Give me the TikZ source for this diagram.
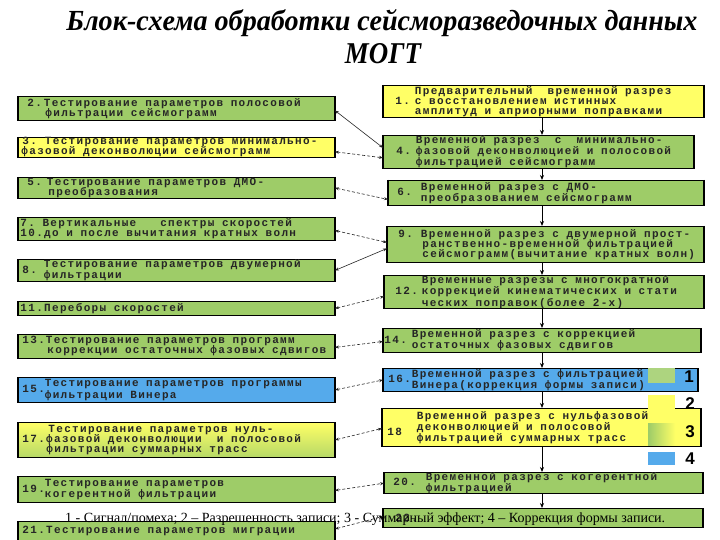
\documentclass[tikz,border=0pt]{standalone}
\usepackage{fontspec}
\usepackage{graphicx}
\setmainfont{Liberation Serif}
\newfontfamily\boxfont[LetterSpace=12]{Liberation Mono}
\newfontfamily\legfont{Liberation Sans}
\usetikzlibrary{arrows.meta}
\definecolor{grn}{RGB}{158,204,104}
\definecolor{ylw}{RGB}{255,255,102}
\definecolor{blu}{RGB}{85,170,235}
\hfuzz=100pt
\newcommand\bfnt{\boxfont\bfseries\fontsize{11pt}{10pt}\selectfont\lineskiplimit=-100pt\spaceskip=7.6pt\relax}
\newcommand\HS[1]{\hspace*{#1pt}}
\newcommand\NB[4]{\HS{#1}#2\HS{#3}\parbox[c]{280pt}{\raggedright\spaceskip=7.6pt\relax #4}}
\newcommand\bx[7]{\node[box,#2,minimum width=#5pt,text width=#5pt,minimum height=#6pt] (#1) at (#3,#4) {\spaceskip=7.6pt\relax #7};}
\tikzset{
  box/.style={draw=black, line width=0.9pt, inner xsep=0pt, inner ysep=0pt, anchor=north west, align=left, font=\bfnt, text=black!85},
  link/.style={{Stealth[length=4pt,width=3pt]}-{Stealth[length=4pt,width=3pt]}, line width=0.6pt, draw=black!85},
  dlink/.style={link, dash pattern=on 3pt off 2pt},
  flow/.style={-{Stealth[length=5pt,width=4pt]}, line width=0.8pt},
  legsq/.style={draw=none, anchor=north west, inner sep=0pt, minimum width=27pt},
  legnum/.style={font=\legfont\bfseries\fontsize{17pt}{17pt}\selectfont, inner sep=0pt},
}
\begin{document}
\begin{tikzpicture}[x=1pt,y=-1pt]
\useasboundingbox[fill=white] (0,0) rectangle (720,540);
% title
\node[anchor=base, inner sep=0] (t1) at (382,31) {\resizebox{631pt}{21pt}{\bfseries\itshape Блок-схема обработки сейсморазведочных данных}};
\node[anchor=base, inner sep=0] (t2) at (383,64) {\resizebox{76pt}{20pt}{\bfseries\itshape МОГТ}};
% left column
\bx{b2}{fill=grn}{18}{96}{316}{24}{\HS{9}2.\HS{2}Тестирование параметров полосовой\\\HS{27}фильтрации сейсмограмм}
\bx{b3}{fill=ylw}{18}{137}{316}{19}{\mbox{\HS{4}3.\HS{8}Тестирование параметров минимально-}\\\HS{3}фазовой деконволюции сейсмограмм}
\bx{b5}{fill=grn}{18}{177}{316}{21}{\HS{9}5.\HS{5}Тестирование параметров ДМО-\\\HS{30}преобразования}
\bx{b7}{fill=grn}{18}{217}{316}{23}{\HS{2}7.\ Вертикальные\HS{24}спектры скоростей\\\HS{2}10.до и после вычитания кратных волн}
\bx{b8}{fill=grn}{18}{259}{316}{22}{\NB{4}{8.}{7}{Тестирование параметров двумерной\\фильтрации}}
\bx{b11}{fill=grn}{18}{301}{316}{14}{\HS{2}11.Переборы скоростей}
\bx{b13}{fill=grn}{18}{334}{316}{24}{\mbox{\HS{4}13.\HS{1}Тестирование параметров программ}\\\mbox{\HS{29}коррекции остаточных фазовых сдвигов}}
\bx{b15}{fill=blu}{18}{377}{316}{25}{\NB{4}{15.}{0}{Тестирование параметров программы\\фильтрации Винера}}
\bx{b17}{top color=ylw,bottom color=grn!75!ylw}{18}{422}{316}{35}{\HS{30}Тестирование параметров нуль-\\\HS{4}17.фазовой деконволюции\ \ и полосовой\\\HS{28}фильтрации суммарных трасс}
\bx{b19}{fill=grn}{18}{476}{316}{26}{\NB{4}{19.}{0}{Тестирование параметров\\когерентной фильтрации}}
\bx{b21}{fill=grn}{18}{521}{316}{19}{\HS{4}21.Тестирование параметров миграции}
% right column
\bx{b1}{fill=ylw}{383}{85}{320}{32}{\NB{12}{1.}{5}{Предварительный\ \ временной разрез\\с восстановлением истинных\\амплитуд и априорными поправками}}
\bx{b4}{fill=grn}{383}{135}{310}{32}{\NB{13}{4.}{5}{Временной разрез\ \ с\ \ минимально-\\фазовой деконволюцией и полосовой\\фильтрацией сейсмограмм}}
\bx{b6}{fill=grn}{388}{180}{315}{25}{\NB{9}{6.}{9}{Временной разрез с ДМО-\\преобразованием сейсмограмм}}
\bx{b9}{fill=grn}{387}{226}{316}{36}{\mbox{\HS{11}9.\HS{8}Временной разрез с двумерной прост-}\\\HS{35}ранственно-временной фильтрацией\\\mbox{\HS{35}сейсмограмм(вычитание кратных волн)}}
\bx{b12}{fill=grn}{384}{275}{319}{33}{\NB{11}{12.}{4}{Временные разрезы с многократной\\коррекцией кинематических и стати\\ческих поправок(более 2-х)}}
\bx{b14}{fill=grn}{383}{328}{317}{24}{\NB{1}{14.}{5}{Временной разрез с коррекцией\\остаточных фазовых сдвигов}}
\bx{b16}{fill=blu}{383}{368}{314}{23}{\NB{5}{16.}{1}{Временной разрез с фильтрацией\\Винера(коррекция формы записи)}}
\bx{b18}{fill=ylw}{382}{408}{318}{38}{\HS{5}\raisebox{-5pt}{18}\HS{15}\parbox[c]{270pt}{\raggedright\spaceskip=7.6pt\relax Временной разрез с нульфазовой\\деконволюцией и полосовой\\фильтрацией суммарных трасс}}
\bx{b20}{fill=grn}{384}{472}{318}{19}{\NB{9}{20.}{10}{Временной разрез с когерентной\\фильтрацией}}
\bx{b22}{fill=grn}{383}{508}{319}{19}{\HS{12}22.}
% thick side edges
\foreach \n in {b1,b2,b3,b4,b5,b6,b7,b8,b9,b11,b12,b13,b14,b15,b16,b17,b18,b19,b20,b21,b22}{
  \draw[line width=1.8pt] (\n.north west) -- (\n.south west) (\n.north east) -- (\n.south east);
}
% vertical flow
\coordinate (vx) at (542,0);
\foreach \a/\b in {b1/b4,b4/b6,b6/b9,b9/b12,b12/b14,b14/b16,b16/b18,b18/b20,b20/b22}{
  \draw[flow] (\a.south -| vx) -- (\b.north -| vx);
}
% cross links
\draw[link]  ([yshift=-2pt]b2.east) -- ([yshift=4pt]b4.west);
\draw[dlink] ([yshift=-4.5pt]b3.east) -- ([yshift=-6pt]b4.west);
\draw[dlink] (b5.east) -- ([yshift=-6.5pt]b6.west);
\draw[dlink] ([yshift=-1.5pt]b7.east) -- ([yshift=2pt]b9.west);
\draw[link]  (b8.east) -- ([yshift=-4pt]b9.west);
\draw[dlink] (b11.east) -- ([yshift=-4.5pt]b12.west);
\draw[dlink] ([yshift=-1pt]b13.east) -- ([yshift=-1pt]b14.west);
\draw[dlink] (b15.east) -- (b16.west);
\draw[dlink] (b17.east) -- ([yshift=-1pt]b18.west);
\draw[dlink] ([yshift=-1pt]b19.east) -- (b20.west);
\draw[dlink] ([yshift=2pt]b21.east) -- ([yshift=1.5pt]b22.west);
% legend
\node[legsq, fill=grn!85!white, minimum height=15pt] (sq1) at (648,368) {};
\node[legsq, fill=ylw, minimum height=27pt] (sq2) at (648,395) {};
\node[legsq, left color=grn, right color=ylw, minimum height=22pt] (sq3) at (648,423) {};
\node[legsq, fill=blu, minimum height=13pt] (sq4) at (648,452) {};
\node[legnum] (n1) at (689,377) {1};
\node[legnum] (n2) at (690,404) {2};
\node[legnum] (n3) at (690,432) {3};
\node[legnum] (n4) at (690,459) {4};
% caption
\node[anchor=base west, inner sep=0] (cap) at (65,522) {\resizebox{600pt}{!}{1 - Сигнал/помеха; 2 – Разрешенность записи; 3 - Суммарный эффект; 4 – Коррекция формы записи.}};
\end{tikzpicture}
\end{document}
